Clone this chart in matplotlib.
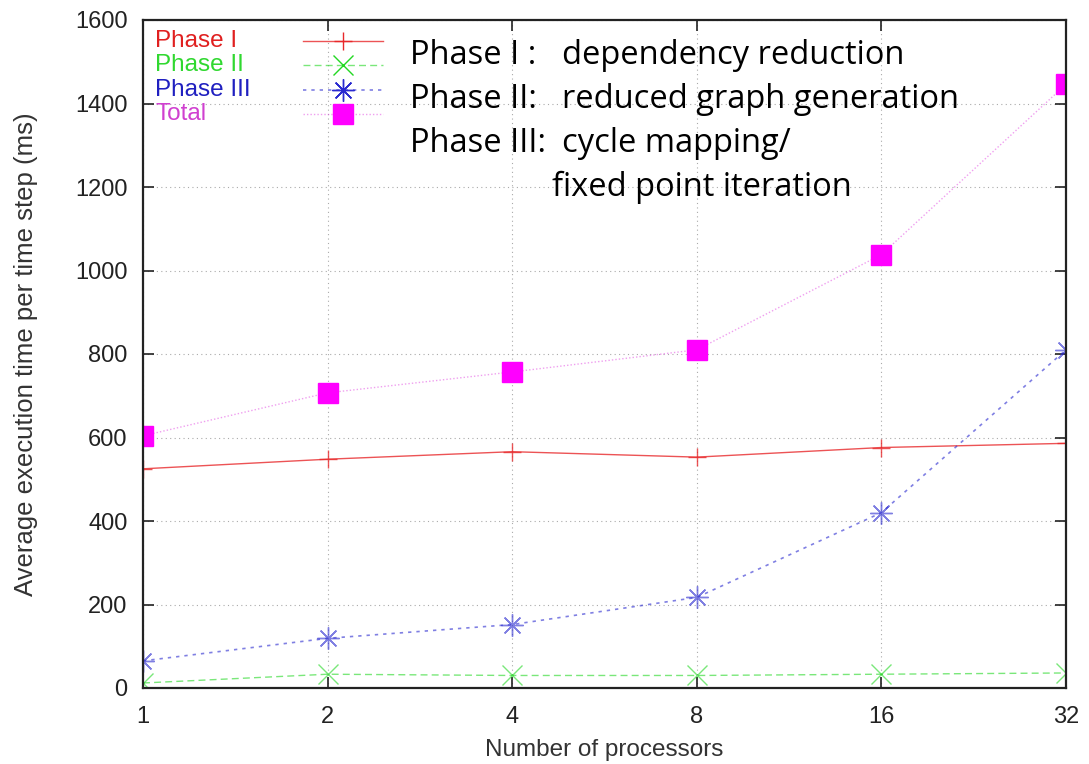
import numpy as np
import matplotlib
matplotlib.use('Agg')
import matplotlib.pyplot as plt
from matplotlib.lines import Line2D

# values
procs = [1, 2, 4, 8, 16, 32]
phase1 = [525, 548, 566, 553, 576, 586]
phase2 = [12, 33, 30, 30, 33, 36]
phase3 = [65, 119, 152, 217, 420, 810]
total = [604, 707, 757, 810, 1038, 1446]
yticks = [0, 200, 400, 600, 800, 1000, 1200, 1400, 1600]

series_names = ['Phase I', 'Phase II', 'Phase III', 'Total']
note_heads = ["Phase I :", "Phase II:", "Phase III:", ""]
note_texts = ["dependency reduction", "reduced graph generation",
              "cycle mapping/", "fixed point iteration"]

plt.rcParams['font.family'] = ['Liberation Sans', 'DejaVu Sans']

W, H = 1089, 764
fig = plt.figure(figsize=(W/100, H/100), dpi=100)
ax = fig.add_axes([143/W, 1 - 688/H, (1066 - 143)/W, (688 - 20)/H])

styles = [
    dict(color='#e8282a', lw=1.0, alpha=0.8, ls='-', marker='+', ms=13, mew=1.0),
    dict(color='#22d822', lw=1.0, alpha=0.6, ls=(0, (5, 3)), marker='x', ms=14, mew=1.0),
    dict(color='#2a2ad0', lw=1.2, alpha=0.6, ls=(0, (2, 3)), marker=(8, 2, 0), ms=16, mew=1.0),
    dict(color='#e040e0', lw=1.0, alpha=0.5, ls=(0, (1, 1.5)), marker='s', ms=15,
         mfc='#ff00ff', mec='#ff00ff'),
]
text_colors = ['#e02020', '#30d830', '#2020c0', '#d040d0']

for vals, st in zip([phase1, phase2, phase3], styles[:3]):
    ax.plot(procs, vals, **st)
# total: faint dotted line, solid magenta squares
ax.plot(procs, total, color='#e040e0', lw=1.0, alpha=0.5, ls=(0, (1, 1.5)))
ax.plot(procs, total, color='#ff00ff', ls='none', marker='s', ms=15)

ax.set_xscale('log', base=2)
ax.set_xlim(1, 32)
ax.set_ylim(0, 1600)
ax.set_xticks(procs)
ax.set_xticklabels([str(p) for p in procs])
ax.set_yticks(yticks)
ax.minorticks_off()

ax.grid(True, color='#aaaaaa', ls=(0, (1, 3)), lw=0.8)
ax.tick_params(direction='in', length=8, width=1.2, top=True, right=True,
               labelsize=17, colors='#222222', pad=11)
ax.tick_params(axis='x', pad=13)
for s in ax.spines.values():
    s.set_linewidth(1.6)
    s.set_color('#222222')

ax.set_xlabel('Number of processors', fontsize=17.5, color='#333333')
ax.set_ylabel('Average execution time per time step (ms)', fontsize=18.5,
              color='#333333')
ax.xaxis.set_label_coords((604 - 143)/923, (688 - 750)/668)
ax.yaxis.set_label_coords((26 - 143)/923, 0.5)
ax.xaxis.label.set_va('center')
ax.yaxis.label.set_va('center')

# gnuplot style key: coloured text on the left, sample on the right
for i, (name, st, tc) in enumerate(zip(series_names, styles, text_colors)):
    yc = 1 - (41 + i*24.3)/H
    fig.text(155/W, yc, name, fontsize=17.5, color=tc, va='center', ha='left')
    ln = Line2D([303/W, 383/W], [yc, yc], transform=fig.transFigure,
                color=st['color'], lw=st['lw'], alpha=st['alpha'], ls=st['ls'])
    fig.add_artist(ln)
    mk = dict(st)
    for k in ('lw', 'ls', 'alpha'):
        mk.pop(k)
    if name == 'Total':
        mk['color'] = '#ff00ff'
    fig.add_artist(Line2D([343/W], [yc], transform=fig.transFigure, ls='none', **mk))

for i, (head, txt) in enumerate(zip(note_heads, note_texts)):
    yc = 1 - (55 + i*44)/H
    fig.text(410/W, yc, head, fontsize=23.5, family=['Open Sans', 'DejaVu Sans'],
             va='center', ha='left', color='black')
    x0 = 552 if i == 3 else 562
    fig.text(x0/W, yc, txt, fontsize=23.5, family=['Open Sans', 'DejaVu Sans'],
             va='center', ha='left', color='black')

fig.savefig('out.png', dpi=100)
